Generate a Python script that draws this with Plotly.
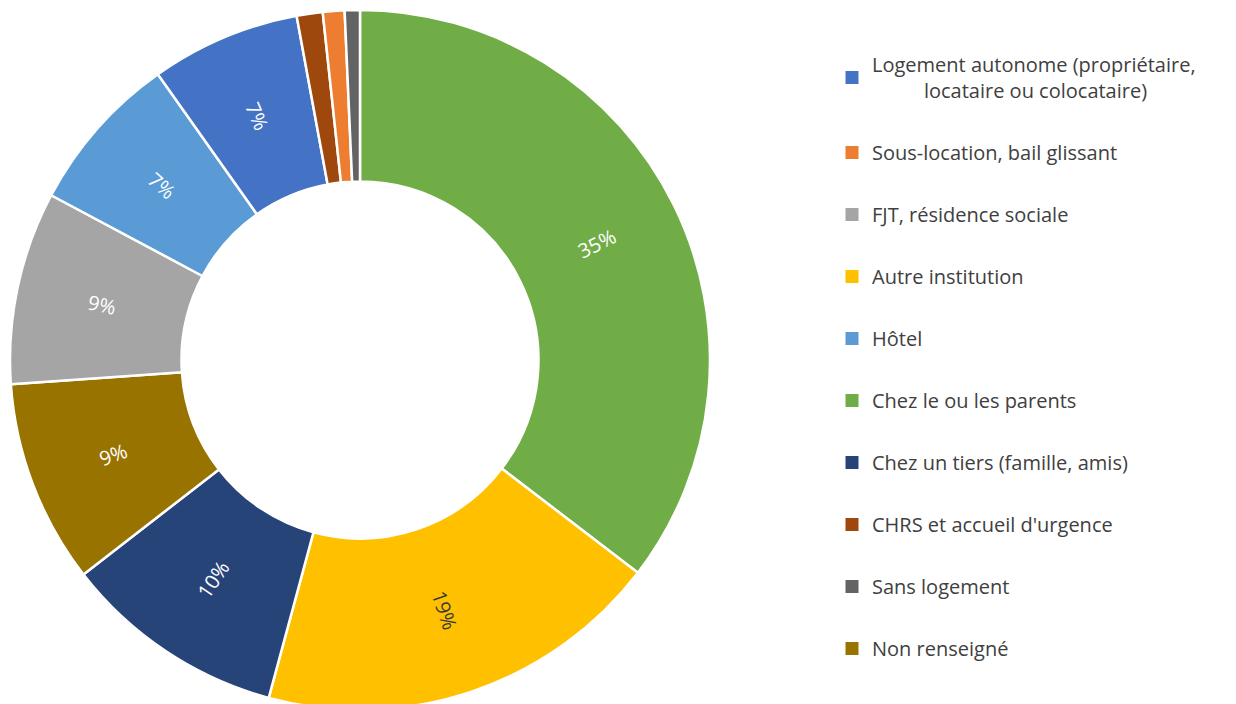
import math
import plotly.graph_objects as go

# Slices in clockwise order from 12 o'clock
slice_labels = ["Chez le ou les parents", "Autre institution", "Chez un tiers (famille, amis)",
                "Non renseigné", "FJT, résidence sociale", "Hôtel",
                "Logement autonome (propriétaire,<br>\u00a0\u00a0\u00a0\u00a0\u00a0\u00a0\u00a0\u00a0\u00a0\u00a0locataire ou colocataire)",
                "CHRS et accueil d'urgence", "Sous-location, bail glissant", "Sans logement"]
slice_values = [35.4, 18.8, 10.3, 9.4, 8.9, 7.4, 6.9, 1.2, 1.0, 0.7]
slice_colors = ["#70AD47", "#FFC000", "#264478", "#997300", "#A5A5A5", "#5B9BD5",
                "#4472C4", "#9E480E", "#ED7D31", "#636363"]
text_colors = ["white", "#3a3a3a", "white", "white", "white", "white", "white",
               "white", "white", "white"]

# Legend order as shown on the right
legend_order = [slice_labels[6], "Sous-location, bail glissant", "FJT, résidence sociale",
                "Autre institution", "Hôtel", "Chez le ou les parents",
                "Chez un tiers (famille, amis)", "CHRS et accueil d'urgence",
                "Sans logement", "Non renseigné"]

W, H = 1236, 704
MT, MB = 2, 2
PH = H - MT - MB            # plot-area height
HOLE = 0.51
dom_x = [2 / W, 702 / W]    # 700 px wide domain -> radius 350

total = sum(slice_values)
slice_text = [f"{round(v / total * 100)}%" if v / total >= 0.05 else "" for v in slice_values]

fig = go.Figure()
fig.add_trace(go.Pie(
    labels=slice_labels, values=slice_values,
    textinfo="none", hoverinfo="label+percent",
    sort=False, direction="clockwise", rotation=0, hole=HOLE,
    marker=dict(colors=slice_colors, line=dict(color="white", width=2.5)),
    domain=dict(x=dom_x, y=[0, 1]),
    showlegend=False,
))

# Radial percentage labels placed at the middle of each slice's ring
cx = (dom_x[0] + dom_x[1]) / 2 * W
cy = PH / 2
R = min((dom_x[1] - dom_x[0]) * W, PH) / 2
r_mid = R * (1 + HOLE) / 2
cum = 0.0
for v, t, c in zip(slice_values, slice_text, text_colors):
    mid = (cum + v / 2) / total * 360.0
    cum += v
    if not t:
        continue
    th = math.radians(mid)
    px = cx + r_mid * math.sin(th)
    py = cy - r_mid * math.cos(th)
    ang = mid - 90.0
    if ang > 90:
        ang -= 180
    fig.add_annotation(
        x=px / W, y=1 - py / PH, xref="paper", yref="paper",
        text=t, showarrow=False, textangle=ang,
        font=dict(size=20, color=c, family="Open Sans"),
        xanchor="center", yanchor="middle",
    )

color_of = dict(zip(slice_labels, slice_colors))
for i, lab in enumerate(legend_order):
    fig.add_trace(go.Scatter(
        x=[None], y=[None], mode="markers", name=lab,
        marker=dict(symbol="square", size=13, color=color_of[lab]),
        legendgroup=f"g{i}", showlegend=True,
    ))

fig.update_layout(
    width=W, height=H,
    margin=dict(l=0, r=0, t=MT, b=MB),
    paper_bgcolor="white", plot_bgcolor="white",
    xaxis=dict(visible=False), yaxis=dict(visible=False),
    legend=dict(x=824 / W, y=1 - 35 / PH, xanchor="left", yanchor="top",
                font=dict(size=20, color="#404040", family="Open Sans"),
                tracegroupgap=33, traceorder="grouped", itemclick=False),
    font=dict(family="Open Sans"),
)

fig.write_html("out.html")
